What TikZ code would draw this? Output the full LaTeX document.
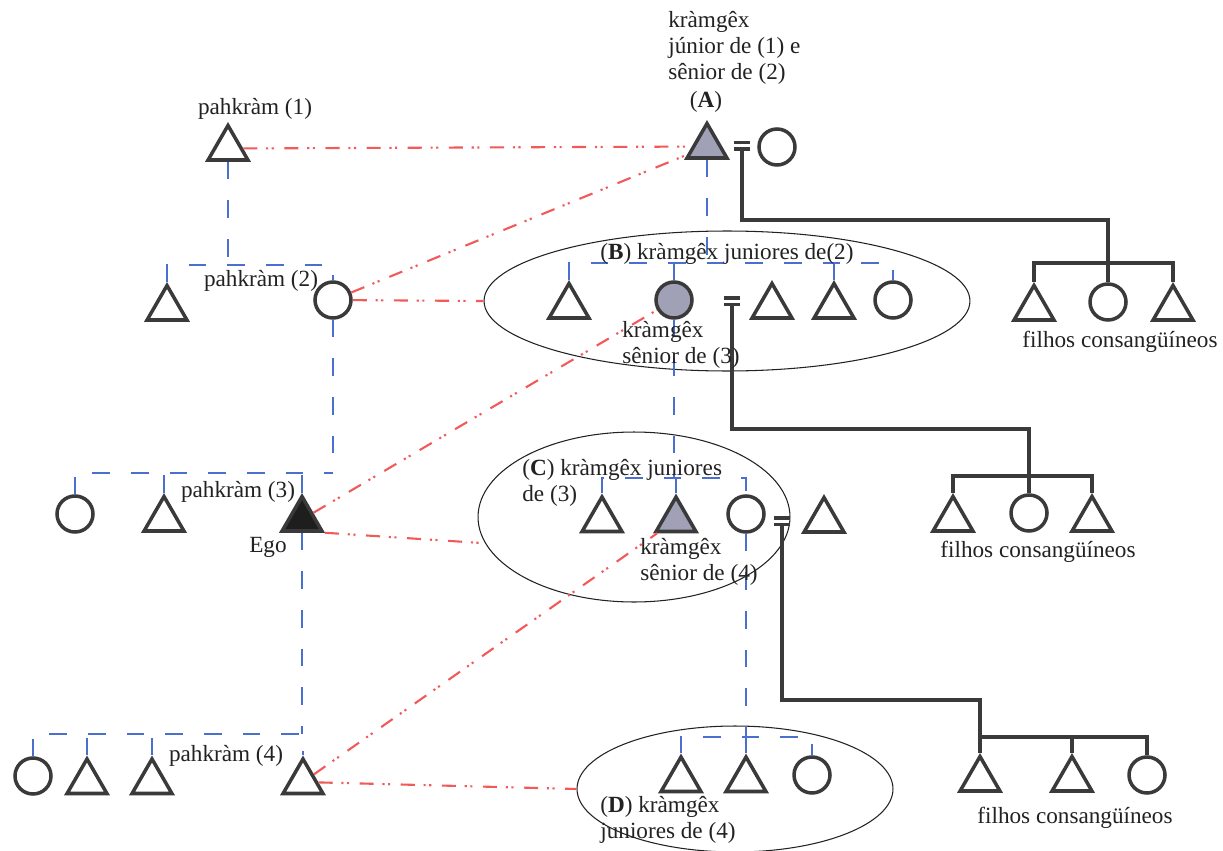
\documentclass[tikz,border=0pt]{standalone}
\usepackage{fontspec}
\setmainfont{Liberation Serif}
\usetikzlibrary{shapes.geometric,calc}

\definecolor{symc}{HTML}{3A3A3A}
\definecolor{kinblue}{HTML}{4B6FCF}
\definecolor{relred}{HTML}{F25A5A}
\definecolor{markfill}{HTML}{A0A0B6}
\definecolor{egofill}{HTML}{1E1E1E}
\definecolor{inkc}{HTML}{222222}

\tikzset{
  male/.style={regular polygon, regular polygon sides=3, minimum size=0.92cm,
    inner sep=0pt, draw=symc, line width=2pt, fill=white},
  female/.style={circle, minimum size=0.72cm, inner sep=0pt, draw=symc,
    line width=2pt, fill=white},
  marked/.style={fill=markfill},
  egomark/.style={fill=egofill},
  kin/.style={draw=kinblue, line width=1pt, dash pattern=on 10pt off 12pt},
  rel/.style={draw=relred, line width=1.2pt,
    dash pattern=on 8pt off 5pt on 1.2pt off 2pt on 1.2pt off 6pt},
  blood/.style={draw=symc, line width=1.8pt},
  grp/.style={ellipse, draw=inkc, line width=0.6pt, inner sep=0pt},
  lbl/.style={font=\fontsize{13.2}{14.8}\selectfont, text=inkc, inner sep=0pt},
}

% marriage sign: two short bars centred on a named coordinate
\newcommand\marriagesign[1]{%
  \fill[symc] ($(#1)+(-8,-5)$) rectangle ++(16,3.5);
  \fill[symc] ($(#1)+(-8,1.5)$) rectangle ++(16,3.5);}

\begin{document}
\begin{tikzpicture}[x=0.02cm, y=-0.02cm]
\fill[white] (0,0) rectangle (1223,851);
\useasboundingbox (0,0) rectangle (1223,851);

% ---------- groups of kràmgêx juniores ----------
\node[grp, minimum width=9.72cm, minimum height=2.8cm] (Bell) at (727,301) {};
\node[grp, minimum width=6.24cm, minimum height=3.4cm] (Cell) at (634,517) {};
\node[grp, minimum width=6.32cm, minimum height=2.52cm] (Dell) at (735,789) {};

% ---------- people ----------
% generation 1
\node[male] (P1) at (228,148.5) {};
\node[male, marked] (A) at (707,146.5) {};
\node[female] (wA) at (777,147) {};
\coordinate (mA) at (742,146);
% generation 2
\node[male] (G2a) at (167,308.5) {};
\node[female] (c2) at (333,300) {};
\node[male] (B1) at (569,306.5) {};
\node[female, marked] (B2) at (674,300) {};
\coordinate (mB) at (732,301);
\node[male] (B3) at (772,306.5) {};
\node[male] (B4) at (834,306.5) {};
\node[female] (B5) at (893,300) {};
% children of A
\node[male] (fA1) at (1034,308.5) {};
\node[female] (fA2) at (1108,302) {};
\node[male] (fA3) at (1173,308.5) {};
% generation 3
\node[female] (G3a) at (75,514) {};
\node[male] (G3b) at (164,519.5) {};
\node[male, egomark] (Ego) at (302,519.5) {};
\node[male] (C1) at (602,520) {};
\node[male, marked] (C2) at (676,520) {};
\node[female] (C3) at (746,514) {};
\coordinate (mC) at (782,521);
\node[male] (C4) at (824,520.5) {};
% children of B2
\node[male] (fB1) at (953,519.5) {};
\node[female] (fB2) at (1029,513) {};
\node[male] (fB3) at (1092,519.5) {};
% generation 4
\node[female] (G4a) at (33,776) {};
\node[male] (G4b) at (87,782) {};
\node[male] (G4c) at (152,782) {};
\node[male] (G4d) at (303,782) {};
\node[male] (D1) at (681,780) {};
\node[male] (D2) at (746,780) {};
\node[female] (D3) at (812,775) {};
% children of C3
\node[male] (fC1) at (980,779.5) {};
\node[male] (fC2) at (1072,779.5) {};
\node[female] (fC3) at (1147,775) {};

% ---------- classificatory descent (blue) ----------
\coordinate (b2) at (0,265);
\coordinate (b3) at (0,473);
\coordinate (b4) at (0,734);
\coordinate (bB) at (0,263);
\coordinate (bC) at (0,478);
\coordinate (bD) at (0,737);

\draw[kin] (P1.south) -- (P1 |- b2);
\draw[kin] (G2a.north) -- (G2a |- b2) -- (c2 |- b2) -- (c2.north);

\draw[kin] (c2.south) -- (c2 |- b3);
\draw[kin] (G3a.north) -- (G3a |- b3) -- (c2 |- b3);
\draw[kin] (G3b.north) -- (G3b |- b3);
\draw[kin] (Ego.north) -- (Ego |- b3);

\draw[kin] (Ego.south) -- (Ego |- b4);
\draw[kin] (G4a.north) -- (G4a |- b4) -- (G4d |- b4) -- (G4d.north);
\draw[kin] (G4b.north) -- (G4b |- b4);
\draw[kin] (G4c.north) -- (G4c |- b4);

\draw[kin] (A.south) -- (A |- bB);
\draw[kin] (B1.north) -- (B1 |- bB) -- (B5 |- bB) -- (B5.north);
\draw[kin] (B2.north) -- (B2 |- bB);
\draw[kin] (B4.north) -- (B4 |- bB);

\draw[kin] (B2.south) -- (B2 |- bC);
\draw[kin] (C1.north) -- (C1 |- bC) -- (C3 |- bC) -- (C3.north);
\draw[kin] (C2.north) -- (C2 |- bC);

\draw[kin] (C3.south) -- (C3 |- bD);
\draw[kin] (D1.north) -- (D1 |- bD) -- (D3 |- bD) -- (D3.north);
\draw[kin] (D2.north) -- (D2 |- bD);

% ---------- pahkràm / kràmgêx relations (red) ----------
\draw[rel] (P1) -- (A);
\draw[rel] (c2) -- (A);
\draw[rel] (c2) -- (Bell.west);
\draw[rel] (Ego) -- (B2);
\draw[rel] (Ego.corner 3) -- (Cell.190);
\draw[rel] (G4d) -- (C2);
\draw[rel] (G4d) -- (Dell.west);

% ---------- marriages and own children (black) ----------
\marriagesign{mA}
\marriagesign{mB}
\marriagesign{mC}

\coordinate (jA) at (1108,220);
\coordinate (sA) at (0,263);
\draw[blood] ($(mA)+(0,5)$) |- (jA) -- (fA2.north);
\draw[blood] (fA1.north) -- (fA1 |- sA) -- (fA3 |- sA) -- (fA3.north);

\coordinate (jB) at (1029,429);
\coordinate (sB) at (0,476);
\draw[blood] ($(mB)+(0,5)$) |- (jB) -- (fB2.north);
\draw[blood] (fB1.north) -- (fB1 |- sB) -- (fB3 |- sB) -- (fB3.north);

\coordinate (jC) at (980,700);
\coordinate (sC) at (0,737);
\draw[blood] ($(mC)+(0,5)$) |- (jC) -- (fC1.north);
\draw[blood] (fC1 |- sC) -- (fC3 |- sC) -- (fC3.north);
\draw[blood] (fC2.north) -- (fC2 |- sC);

% ---------- labels ----------
\node[lbl, anchor=north west, align=left] (tA) at (668,11)
  {kràmgêx\\júnior de (1) e\\sênior de (2)};
\node[lbl] (tAl) at (706,102) {(\textbf{A})};
\node[lbl] (tP1) at (255,109) {pahkràm (1)};
\node[lbl] (tP2) at (261,281) {pahkràm (2)};
\node[lbl] (tB) at (727,254) {(\textbf{B}) kràmgêx juniores de(2)};
\node[lbl, anchor=north west, align=left] (tB2) at (622,321) {kràmgêx\\sênior de (3)};
\node[lbl] (tP3) at (238,492) {pahkràm (3)};
\node[lbl] (tEgo) at (268,547) {Ego};
\node[lbl, anchor=north west, align=left] (tC) at (522,459) {(\textbf{C}) kràmgêx juniores\\de (3)};
\node[lbl, anchor=north west, align=left] (tC2) at (640,538) {kràmgêx\\sênior de (4)};
\node[lbl] (tP4) at (226,756) {pahkràm (4)};
\node[lbl, anchor=north west, align=left] (tD) at (600,796) {(\textbf{D}) kràmgêx\\juniores de (4)};
\node[lbl] (tfA) at (1120,342) {filhos consangüíneos};
\node[lbl] (tfB) at (1038,552) {filhos consangüíneos};
\node[lbl] (tfC) at (1075,818) {filhos consangüíneos};
\end{tikzpicture}
\end{document}
